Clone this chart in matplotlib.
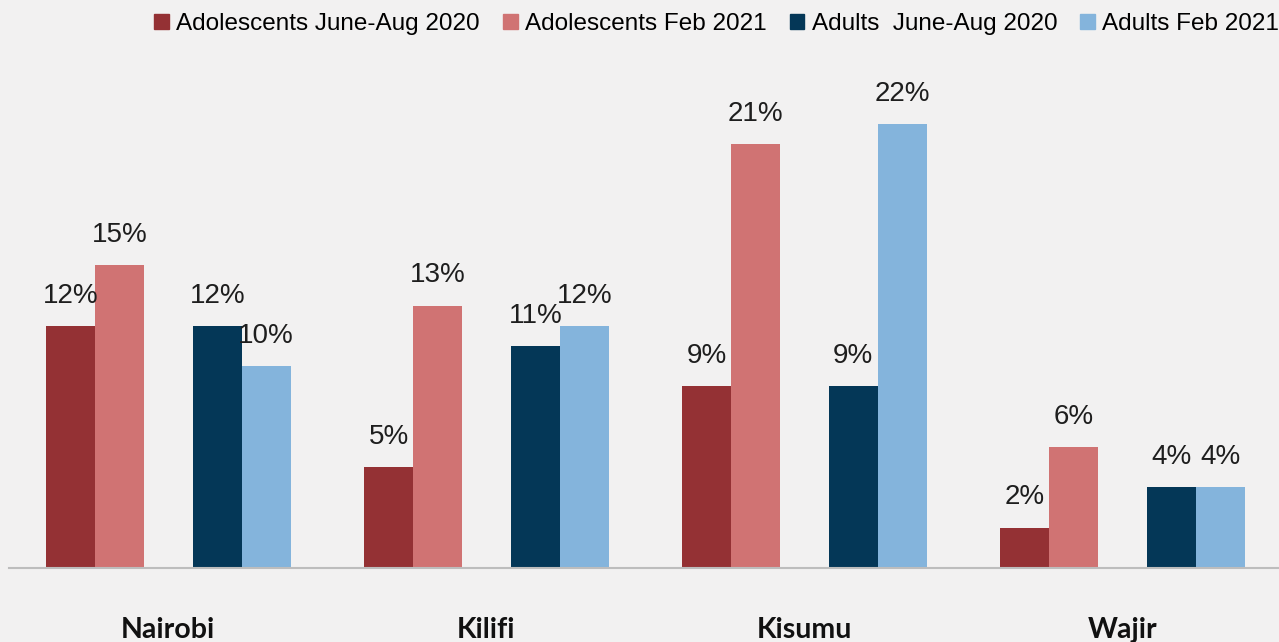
import numpy as np
import matplotlib.pyplot as plt
from matplotlib.patches import Patch
from matplotlib.transforms import blended_transform_factory

cities = ["Nairobi", "Kilifi", "Kisumu", "Wajir"]
series = ["Adolescents June-Aug 2020", "Adolescents Feb 2021", "Adults  June-Aug 2020", "Adults Feb 2021"]
adol_2020 = [12, 5, 9, 2]
adol_2021 = [15, 13, 21, 6]
adult_2020 = [12, 11, 9, 4]
adult_2021 = [10, 12, 22, 4]
colors = ["#943134", "#d07373", "#043757", "#84b4dc"]
bg = "#f2f1f1"

W, H = 1279, 642
fig = plt.figure(figsize=(W / 100, H / 100), dpi=100, facecolor=bg)
ax = fig.add_axes([9 / W, (H - 568) / H, 1 - 9 / W, (568 - 83.7) / H], facecolor=bg)

groups = np.arange(len(cities)) * 6.5
offsets = [0, 1, 3, 4]
for vals, off, c in zip([adol_2020, adol_2021, adult_2020, adult_2021], offsets, colors):
    xs = groups + off
    ax.bar(xs, vals, width=1, align="edge", color=c)
    for x, v in zip(xs, vals):
        ax.text(x + 0.5, v + 1.5, f"{v}%", ha="center", va="center",
                fontsize=20, family="Liberation Sans", color="#1e1e1e")

ax.set_xlim(-0.756, 25.2)
ax.set_ylim(0, 24)
for s in ["top", "right", "left"]:
    ax.spines[s].set_visible(False)
ax.spines["bottom"].set_color("#bdbdbd")
ax.spines["bottom"].set_linewidth(1.5)
ax.set_yticks([])
ax.set_xticks([])

trans = blended_transform_factory(ax.transData, fig.transFigure)
for gx, name in zip(groups, cities):
    ax.text(gx + 2.5, 1 - 638 / H, name, transform=trans, ha="center", va="baseline",
            fontsize=20.5, fontweight="bold", family="Lato", color="#111111")

handles = [Patch(color=c) for c in colors]
fig.legend(handles, series, loc="center right", bbox_to_anchor=(1.0, 1 - 24 / H), ncol=4,
           frameon=False, prop={"family": "Liberation Sans", "size": 17.5},
           handlelength=0.6, handleheight=0.6, handletextpad=0.3, columnspacing=0.95,
           borderaxespad=0, borderpad=0)

fig.savefig("out.png", dpi=100, facecolor=bg)
